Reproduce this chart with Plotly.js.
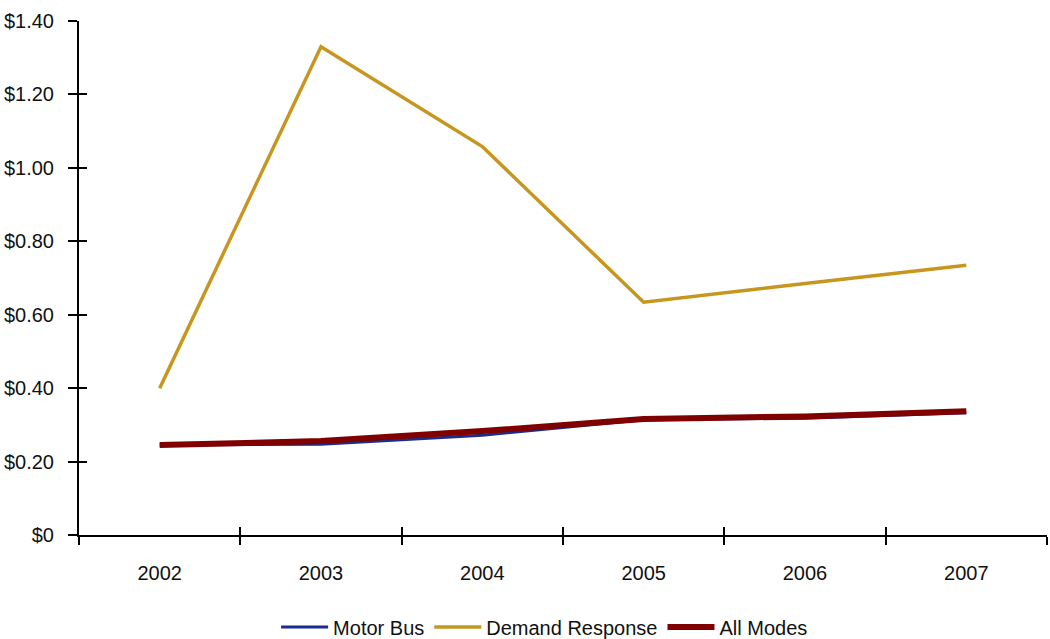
<!DOCTYPE html>
<html>
<head>
<meta charset="utf-8">
<script src="https://cdn.plot.ly/plotly-3.0.1.min.js"></script>
<style>
  html, body { margin: 0; padding: 0; background: #fff; }
  #chart { width: 1050px; height: 639px; }
</style>
</head>
<body>
<div id="chart"></div>
<script>
// Operating cost per passenger mile, by mode
const years = ['2002', '2003', '2004', '2005', '2006', '2007'];
const motorBus = [0.245, 0.247, 0.272, 0.314, 0.318, 0.333];
const demandResponse = [0.40, 1.33, 1.058, 0.634, 0.685, 0.735];
const allModes = [0.245, 0.256, 0.283, 0.316, 0.323, 0.337];

const yTickValues = [0, 0.2, 0.4, 0.6, 0.8, 1.0, 1.2, 1.4];
const yTickLabels = ['$0', '$0.20', '$0.40', '$0.60', '$0.80', '$1.00', '$1.20', '$1.40'];

const FONT = '"Liberation Sans", Arial, sans-serif';
const FONT_SIZE = 20;
const yRange = [0, 1.4];
const xRange = [-0.5, years.length - 0.5];
// category boundaries, used for the inward half of the crossing ticks
const boundaries = years.map((_, i) => i - 0.5).concat([years.length - 0.5]);

const traces = [
  { x: years, y: motorBus, name: 'Motor Bus', type: 'scatter', mode: 'lines',
    line: { color: '#1a2d8c', width: 3 } },
  { x: years, y: demandResponse, name: 'Demand Response', type: 'scatter', mode: 'lines',
    line: { color: '#c6961f', width: 3.5 } },
  { x: years, y: allModes, name: 'All Modes', type: 'scatter', mode: 'lines',
    line: { color: '#800000', width: 6 } },
  // empty trace that puts the overlay axes (inward ticks) on the page
  { x: [], y: [], xaxis: 'x2', yaxis: 'y2', type: 'scatter', mode: 'lines',
    showlegend: false, hoverinfo: 'skip' }
];

const layout = {
  width: 1050, height: 639,
  margin: { l: 79, r: 3, t: 21, b: 104, autoexpand: false },
  paper_bgcolor: '#fff', plot_bgcolor: '#fff',
  font: { family: FONT, size: FONT_SIZE, color: '#111' },
  showlegend: true,
  legend: {
    orientation: 'h', xref: 'paper', x: 0.481, xanchor: 'center',
    yref: 'paper', y: -0.179, yanchor: 'middle',
    font: { family: FONT, size: FONT_SIZE, color: '#111' },
    itemwidth: 47
  },
  xaxis: {
    type: 'category', range: xRange, tickson: 'boundaries',
    ticks: 'outside', ticklen: 8, tickwidth: 2, tickcolor: '#000',
    showline: true, linecolor: '#000', linewidth: 2,
    showgrid: false, zeroline: false, fixedrange: true,
    ticklabelstandoff: 19,
    tickfont: { family: FONT, size: FONT_SIZE, color: '#111' }
  },
  yaxis: {
    range: yRange, tickvals: yTickValues, ticktext: yTickLabels,
    ticks: 'outside', ticklen: 9, tickwidth: 2, tickcolor: '#000',
    showline: true, linecolor: '#000', linewidth: 2,
    showgrid: false, zeroline: false, fixedrange: true,
    ticklabelstandoff: 10,
    tickfont: { family: FONT, size: FONT_SIZE, color: '#111' }
  },
  xaxis2: {
    overlaying: 'x', anchor: 'y2', range: xRange, tickvals: boundaries,
    ticks: 'inside', ticklen: 8, tickwidth: 2, tickcolor: '#000',
    showticklabels: false, showline: false, showgrid: false, zeroline: false
  },
  yaxis2: {
    overlaying: 'y', anchor: 'x2', range: yRange, tickvals: yTickValues,
    ticks: 'inside', ticklen: 8, tickwidth: 2, tickcolor: '#000',
    showticklabels: false, showline: false, showgrid: false, zeroline: false
  }
};

Plotly.newPlot('chart', traces, layout, { displayModeBar: false, staticPlot: true });
</script>
</body>
</html>
